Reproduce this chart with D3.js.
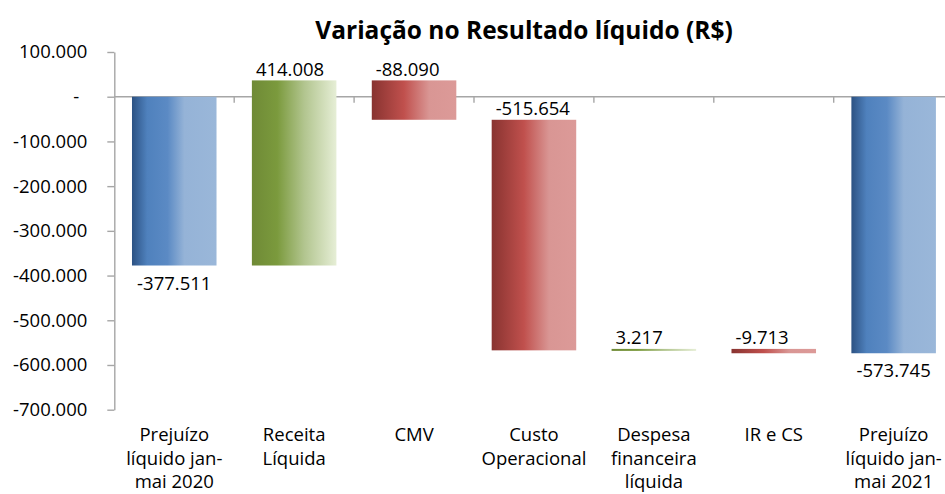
<!DOCTYPE html>
<html lang="pt-BR">
<head>
<meta charset="utf-8">
<title>Variação no Resultado líquido</title>
<script src="https://d3js.org/d3.v7.min.js"></script>
<style>
    body { margin: 0; background: #fff; }
    svg { display: block; font-family: "Open Sans", sans-serif; }
</style>
</head>
<body>
<div id="viz"></div>
<script>

    var width = 945;
    var height = 494;

    // categorias (linhas do rótulo separadas por "|")
    var categories = ["Prejuízo|líquido jan-|mai 2020", "Receita|Líquida", "CMV", "Custo|Operacional",
        "Despesa|financeira|líquida", "IR e CS", "Prejuízo|líquido jan-|mai 2021"];
    var values = [-377511, 414008, -88090, -515654, 3217, -9713, -573745];
    var kinds = ["total", "up", "down", "down", "up", "down", "total"];
    var yTicks = [100000, 0, -100000, -200000, -300000, -400000, -500000, -600000, -700000];

    var locale = d3.formatLocale({decimal: ",", thousands: ".", grouping: [3], currency: ["R$", ""]});
    var fmt = locale.format(",d");
    function fmtVal(v) { return v === 0 ? "-" : fmt(v).replace("−", "-"); }

    // monta as barras em cascata
    var running = 0;
    var bars = categories.map(function (c, i) {
        var v = values[i], y0, y1;
        if (kinds[i] === "total") {
            y0 = 0; y1 = v; running = v;
        } else {
            y0 = running; y1 = running + v; running = y1;
        }
        return {cat: c, value: v, kind: kinds[i], y0: y0, y1: y1};
    });

    var x = d3.scaleBand().domain(categories).range([114.3, 953.6]).paddingInner(0.295).paddingOuter(0.1475);
    var y = d3.scaleLinear().domain([-700000, 100000]).range([409.7, 52]);

    var svg = d3.select("#viz").append("svg")
        .attr("width", width)
        .attr("height", height);

    var defs = svg.append("defs");
    var gradients = {
        total: [[0, "#2c5283"], [0.18, "#4f81bd"], [0.42, "#5b8ac4"], [0.62, "#95b3d7"], [1, "#9ab7d9"]],
        up: [[0, "#6f8a36"], [0.3, "#7b9a3d"], [0.62, "#b2c58f"], [1, "#e6eed6"]],
        down: [[0, "#883330"], [0.38, "#c0504d"], [0.68, "#d99694"], [1, "#dc9a98"]]
    };
    Object.keys(gradients).forEach(function (k) {
        var g = defs.append("linearGradient").attr("id", "grad-" + k)
            .attr("x1", "0%").attr("x2", "100%").attr("y1", "0%").attr("y2", "0%");
        g.selectAll("stop").data(gradients[k]).enter().append("stop")
            .attr("offset", d => d[0])
            .attr("stop-color", d => d[1]);
    });

    // título
    svg.append("text")
        .attr("x", 524)
        .attr("y", 39)
        .attr("text-anchor", "middle")
        .style("font-weight", "bold")
        .style("font-size", "24.5px")
        .text("Variação no Resultado líquido (R$)");

    // eixo y
    var yAxis = d3.axisLeft(y).tickValues(yTicks).tickSize(7).tickSizeOuter(0).tickPadding(20)
        .tickFormat(fmtVal);
    var gy = svg.append("g").attr("transform", "translate(114.3,0)").call(yAxis);
    gy.selectAll("path, line").attr("stroke", "#a6a6a6").attr("stroke-width", 1.4);
    gy.selectAll("text").style("font-size", "18.5px").attr("fill", "#000")
        .attr("font-family", "Open Sans, sans-serif");
    gy.selectAll(".tick").filter(d => d === 0).select("text").attr("dx", -8);

    // eixo das categorias sobre o zero
    var gx = svg.append("g").attr("class", "xaxis");
    gx.append("line")
        .attr("x1", x.range()[0]).attr("x2", x.range()[1])
        .attr("y1", y(0)).attr("y2", y(0))
        .attr("stroke", "#a6a6a6").attr("stroke-width", 1.4);
    gx.selectAll(".ctick").data(categories.slice(1)).enter().append("line")
        .attr("class", "ctick")
        .attr("x1", d => x(d) - x.step() * x.paddingInner() / 2)
        .attr("x2", d => x(d) - x.step() * x.paddingInner() / 2)
        .attr("y1", y(0)).attr("y2", y(0) + 6)
        .attr("stroke", "#a6a6a6").attr("stroke-width", 1.4);

    // barras
    svg.append("g").selectAll("rect")
        .data(bars).enter().append("rect")
        .attr("x", d => x(d.cat))
        .attr("width", x.bandwidth())
        .attr("y", d => y(Math.max(d.y0, d.y1)))
        .attr("height", d => Math.max(2, Math.abs(y(d.y0) - y(d.y1))))
        .attr("fill", d => "url(#grad-" + d.kind + ")");

    // rótulos de valor
    svg.append("g").selectAll("text")
        .data(bars).enter().append("text")
        .style("font-size", "18.5px")
        .attr("fill", "#000")
        .attr("text-anchor", d => d.kind === "total" ? "middle" : "start")
        .attr("x", d => d.kind === "total" ? x(d.cat) + x.bandwidth() / 2 : x(d.cat) + 4)
        .attr("y", d => d.kind === "total" ? y(Math.min(d.y0, d.y1)) + 24 : y(Math.max(d.y0, d.y1)) - 4.5)
        .text(d => fmtVal(d.value));

    // rótulos das categorias
    var cl = svg.append("g").selectAll("text")
        .data(categories).enter().append("text")
        .style("font-size", "18.5px")
        .attr("fill", "#000")
        .attr("text-anchor", "middle")
        .attr("transform", d => "translate(" + (x(d) + x.bandwidth() / 2) + ",441)");
    cl.selectAll("tspan")
        .data(d => d.split("|")).enter().append("tspan")
        .attr("x", 0)
        .attr("y", (d, i) => i * 23.6)
        .text(d => d);

</script>
</body>
</html>
